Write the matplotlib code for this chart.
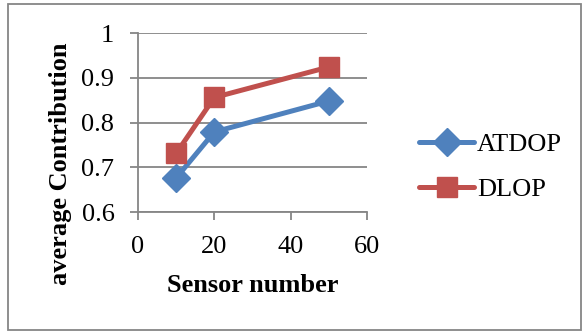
import numpy as np
import matplotlib.pyplot as plt
from matplotlib import rc
import matplotlib.patches as mpatches

font = {'family': 'Liberation Serif', 'size': 19}
rc('font', **font)

sensors = [10, 20, 50]
atdop = [0.676, 0.779, 0.848]
dlop = [0.731, 0.856, 0.924]
labels = ['ATDOP', 'DLOP']
colors = ['#4F81BD', '#C0504D']
grey = '#868686'

fig = plt.figure(figsize=(5.83, 3.32), dpi=100)
ax = fig.add_axes([138/583, 1-212/332, (367-138)/583, (212-33)/332])

ax.plot(sensors, atdop, color=colors[0], lw=3.6, marker='D', ms=14,
        solid_capstyle='round', label=labels[0], clip_on=False)
ax.plot(sensors, dlop, color=colors[1], lw=3.6, marker='s', ms=15,
        solid_capstyle='round', label=labels[1], clip_on=False)

ax.set_xlim(0, 60)
ax.set_ylim(0.6, 1)
ax.set_xticks([0, 20, 40, 60])
ax.set_yticks([0.6, 0.7, 0.8, 0.9, 1.0])
ax.set_yticklabels(['0.6', '0.7', '0.8', '0.9', '1'])
ax.yaxis.grid(True, color=grey, lw=1.3)
ax.set_axisbelow(True)
for s in ['top', 'right']:
    ax.spines[s].set_visible(False)
for s in ['left', 'bottom']:
    ax.spines[s].set_color(grey)
    ax.spines[s].set_linewidth(1.3)
ax.tick_params(axis='both', color=grey, width=1.3, length=6)
ax.tick_params(axis='y', pad=11)
ax.tick_params(axis='x', pad=11)

ax.set_xlabel('Sensor number', fontweight='bold')
ax.set_ylabel('average Contribution', fontweight='bold')
ax.xaxis.set_label_coords(0.5, -0.345)
ax.yaxis.set_label_coords(-0.29, 0.27)

fig.legend(loc='center left', bbox_to_anchor=(419/583, 1-167/332), frameon=False,
           handlelength=2.1, handletextpad=0.1, labelspacing=0.8, borderaxespad=0,
           borderpad=0)

fig.patches.append(mpatches.Rectangle((8/583, 2/332), 573/583, 326/332, transform=fig.transFigure,
                                      fill=False, edgecolor=grey, lw=1.3))

fig.savefig('out.png', dpi=100)
